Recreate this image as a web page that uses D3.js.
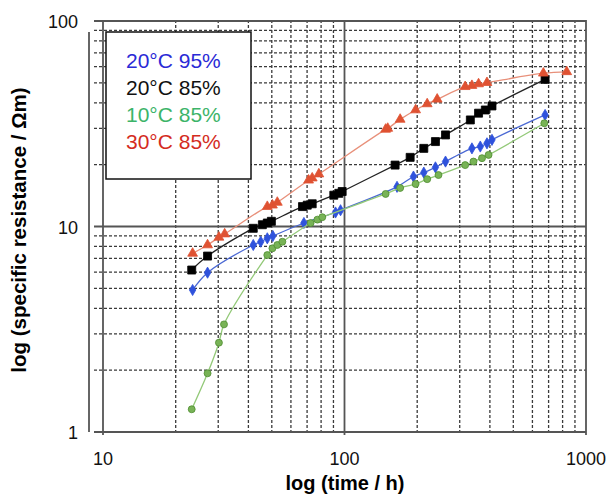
<!DOCTYPE html>
<html>
<head>
<meta charset="utf-8">
<script src="https://cdn.jsdelivr.net/npm/d3@7"></script>
<style>
  body { margin: 0; background: #fff; }
  svg { font-family: Arial, "Liberation Sans", sans-serif; }
</style>
</head>
<body>
<script>
// values (time in h, resistance in Ωm)
var blueT  = [23.5, 27.1, 41.9, 45.0, 47.9, 50.5, 67.9, 91.8, 96.3, 165, 193, 213, 238, 262, 337, 365, 389, 408, 677];
var blueR  = [4.91, 5.96, 8.13, 8.43, 8.76, 8.99, 10.4, 11.7, 12.0, 15.6, 17.5, 18.3, 19.4, 20.7, 24.0, 24.5, 25.4, 26.4, 34.9];

var blackT = [23.3, 27.1, 41.9, 45.7, 47.9, 49.8, 67.0, 70.1, 73.5, 90.3, 94.7, 97.8, 162, 187, 213, 238, 262, 332, 359, 383, 408, 677];
var blackR = [6.14, 7.18, 9.80, 10.2, 10.4, 10.6, 12.5, 12.7, 12.9, 14.2, 14.5, 14.8, 19.9, 21.7, 24.0, 25.9, 27.9, 33.0, 35.6, 36.9, 38.6, 52.0];

var greenT = [23.3, 27.1, 30.2, 31.7, 47.9, 50.3, 52.7, 55.3, 72.4, 77.2, 80.9, 148, 170, 197, 220, 245, 316, 342, 371, 395, 672];
var greenR = [1.29, 1.93, 2.72, 3.34, 7.26, 7.83, 8.13, 8.43, 10.4, 10.8, 11.1, 14.4, 15.4, 16.1, 17.0, 17.8, 19.9, 20.7, 21.5, 22.3, 31.8];

var redT   = [23.5, 27.1, 30.2, 31.9, 47.9, 50.3, 52.7, 71.0, 73.5, 78.3, 148, 151, 170, 197, 220, 242, 316, 337, 359, 389, 666, 832];
var redR   = [7.40, 8.13, 8.86, 9.19, 12.5, 12.7, 13.1, 16.8, 17.2, 18.0, 29.7, 30.0, 33.2, 36.9, 39.5, 41.6, 47.9, 48.5, 49.4, 50.1, 55.7, 56.6];

var legendLabels = ["20°C 95%", "20°C 85%", "10°C 85%", "30°C 85%"];
var xTickLabels = [10, 100, 1000];
var yTickLabels = [1, 10, 100];

var width = 609, height = 496;
var svg = d3.select("body").append("svg").attr("width", width).attr("height", height);

var x = d3.scaleLog().domain([10, 1000]).range([103, 586]);
var y = d3.scaleLog().domain([1, 100]).range([432, 21]);

// minor / major grid values
var xGrid = [], yGrid = [];
[10, 100].forEach(function (d) { for (var i = 2; i <= 9; i++) xGrid.push(d * i); });
[1, 10].forEach(function (d) { for (var i = 2; i <= 9; i++) yGrid.push(d * i); });

var grid = svg.append("g");
grid.selectAll(".vminor").data(xGrid).enter().append("line")
    .attr("x1", function (d) { return x(d); }).attr("x2", function (d) { return x(d); })
    .attr("y1", y(100) - 1).attr("y2", y(1) + 2)
    .attr("stroke", "#3a3a3a").attr("stroke-width", 1.3).attr("stroke-dasharray", "3,2");
grid.selectAll(".hminor").data(yGrid).enter().append("line")
    .attr("x1", 94).attr("x2", x(1000))
    .attr("y1", function (d) { return y(d); }).attr("y2", function (d) { return y(d); })
    .attr("stroke", "#3a3a3a").attr("stroke-width", 1.3).attr("stroke-dasharray", "3,2");
grid.selectAll(".vmajor").data(xTickLabels).enter().append("line")
    .attr("x1", function (d) { return x(d); }).attr("x2", function (d) { return x(d); })
    .attr("y1", y(100) - 1).attr("y2", y(1) + 3)
    .attr("stroke", "#555").attr("stroke-width", 1.8);
grid.selectAll(".hmajor").data(yTickLabels).enter().append("line")
    .attr("x1", 94).attr("x2", x(1000))
    .attr("y1", function (d) { return y(d); }).attr("y2", function (d) { return y(d); })
    .attr("stroke", "#555").attr("stroke-width", 1.8);

// the loose left line
svg.append("line").attr("x1", 89).attr("x2", 89).attr("y1", 32).attr("y2", y(1))
    .attr("stroke", "#333").attr("stroke-width", 1.5);

// tick labels
svg.append("g").selectAll("text").data(xTickLabels).enter().append("text")
    .attr("x", function (d) { return x(d); }).attr("y", 465)
    .attr("text-anchor", "middle").attr("font-size", 18).attr("fill", "#111")
    .text(function (d) { return d; });
svg.append("g").selectAll("text").data(yTickLabels).enter().append("text")
    .attr("x", 78).attr("y", function (d) { return y(d) + 7; })
    .attr("text-anchor", "end").attr("font-size", 18).attr("fill", "#111")
    .text(function (d) { return d; });

// axis titles
svg.append("text").attr("x", 345).attr("y", 490)
    .attr("text-anchor", "middle").attr("font-size", 20).attr("font-weight", "bold")
    .text("log (time / h)");
svg.append("text").attr("transform", "translate(26,230) rotate(-90)")
    .attr("text-anchor", "middle").attr("font-size", 20.5).attr("font-weight", "bold")
    .text("log (specific resistance / Ωm)");

// series
var series = [
    { t: blueT,  r: blueR,  line: "#4b69d4", mark: "#2f52dc", stroke: "#2f52dc", sym: d3.symbolDiamond,  size: 36 },
    { t: blackT, r: blackR, line: "#222",    mark: "#000",    stroke: "#000",    sym: d3.symbolSquare,   size: 64 },
    { t: greenT, r: greenR, line: "#93c978", mark: "#78b356", stroke: "#4e8d30", sym: d3.symbolCircle,   size: 38 },
    { t: redT,   r: redR,   line: "#e8907a", mark: "#df5232", stroke: "#df5232", sym: d3.symbolTriangle, size: 42 }
];

var lineGen = d3.line()
    .x(function (d) { return x(d[0]); })
    .y(function (d) { return y(d[1]); })
    .curve(d3.curveCatmullRom);

series.forEach(function (s) {
    var pts = s.t.map(function (t, i) { return [t, s.r[i]]; });
    svg.append("path").datum(pts)
        .attr("d", lineGen).attr("fill", "none")
        .attr("stroke", s.line).attr("stroke-width", 1.3);
    svg.append("g").selectAll("path").data(pts).enter().append("path")
        .attr("transform", function (d) { return "translate(" + x(d[0]) + "," + y(d[1]) + ")"; })
        .attr("d", d3.symbol().type(s.sym).size(s.size))
        .attr("fill", s.mark).attr("stroke", s.stroke).attr("stroke-width", 0.8);
});

// legend box
var legendColors = ["#2a2ad6", "#111", "#3cb469", "#d42c1e"];
svg.append("rect").attr("x", 106).attr("y", 32).attr("width", 145).attr("height", 147)
    .attr("fill", "#fff").attr("stroke", "#111").attr("stroke-width", 1.5);
svg.append("g").selectAll("text").data(legendLabels).enter().append("text")
    .attr("x", 126).attr("y", function (d, i) { return 68 + i * 27; })
    .attr("font-size", 21).attr("fill", function (d, i) { return legendColors[i]; })
    .text(function (d) { return d; });
</script>
</body>
</html>
